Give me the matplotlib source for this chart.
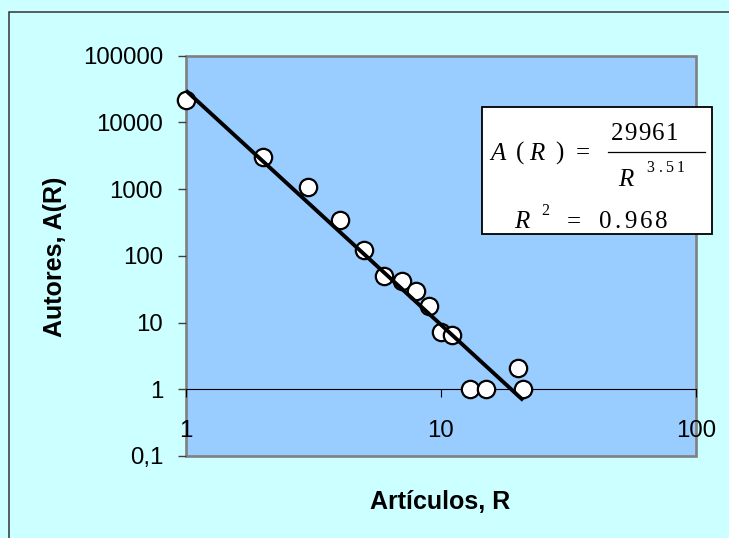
import numpy as np
import matplotlib
matplotlib.use('Agg')
import matplotlib.pyplot as plt
from matplotlib.patches import Rectangle
from matplotlib.lines import Line2D
from matplotlib.ticker import FixedLocator, FixedFormatter, NullLocator

# ---- data ----
articulos = [1, 2, 3, 4, 5, 6, 7, 8, 9, 10, 11, 13, 15, 20, 21]
autores = [21500, 3050, 1090, 345, 123, 50, 42, 30, 18, 7.3, 6.5, 1, 1, 2.1, 1]
fit_coef = 29961
fit_exp = 3.51
fit_r2 = 0.968
fit_start, fit_end = 1, 21
x_ticks = [1, 10, 100]
x_tick_labels = ['1', '10', '100']
y_ticks = [0.1, 1, 10, 100, 1000, 10000, 100000]
y_tick_labels = ['0,1', '1', '10', '100', '1000', '10000', '100000']

plt.rcParams['font.family'] = ['Liberation Sans', 'DejaVu Sans']

W, H = 729, 538
fig = plt.figure(figsize=(W / 100, H / 100), dpi=100, facecolor='#CCFFFF')


def fx(x):
    return x / W


def fy(y):
    return 1 - y / H


# outer chart border (only left/top visible in the crop)
fig.patches.append(Rectangle((fx(9), fy(900)), fx(1200), fy(12) - fy(900),
                             transform=fig.transFigure, fill=False,
                             edgecolor='#333333', lw=1.1))

ax = fig.add_axes([fx(186), fy(456), fx(696) - fx(186), fy(55.7) - fy(456)])
ax.set_xscale('log')
ax.set_yscale('log')
ax.set_xlim(1, 100)
ax.set_ylim(0.1, 100000)
ax.set_facecolor('#99CCFF')

for s in ['left', 'top', 'right']:
    ax.spines[s].set_visible(False)
ax.spines['bottom'].set_position(('data', 1))
ax.spines['bottom'].set_color('black')
ax.spines['bottom'].set_linewidth(0.8)
ax.spines['bottom'].set_zorder(1.5)

ax.add_patch(Rectangle((0, 0), 1, 1, transform=ax.transAxes, fill=False,
                       edgecolor='#808080', lw=1.9, clip_on=False, zorder=1))

ax.xaxis.set_major_locator(FixedLocator(x_ticks))
ax.xaxis.set_major_formatter(FixedFormatter(x_tick_labels))
ax.xaxis.set_minor_locator(NullLocator())
ax.yaxis.set_major_locator(FixedLocator(y_ticks))
ax.yaxis.set_major_formatter(FixedFormatter(y_tick_labels))
ax.yaxis.set_minor_locator(NullLocator())

ax.tick_params(axis='x', direction='out', length=6, width=0.8, color='black',
               pad=16, labelsize=17.3, labelcolor='black')
ax.tick_params(axis='y', direction='out', length=6, width=1.0, color='#404040',
               pad=10.5, labelsize=17.3, labelcolor='black')

# data points
ax.plot(articulos, autores, linestyle='none', marker='o', ms=12.5,
        mfc='white', mec='black', mew=1.6, zorder=3, clip_on=False)

# power trendline
r_fit = np.geomspace(fit_start, fit_end, 60)
a_fit = fit_coef / r_fit ** fit_exp
ax.plot(r_fit, a_fit, color='black', lw=2.8, zorder=4, solid_capstyle='butt',
        clip_on=False)

# axis titles
fig.text(fx(440.4), fy(509), 'Artículos, R', ha='center', va='baseline',
         fontsize=18, fontweight='bold')
fig.text(fx(61.7), fy(257), 'Autores, A(R)', ha='center', va='baseline',
         rotation=90, rotation_mode='anchor', fontsize=18, fontweight='bold')

# equation box
fig.patches.append(Rectangle((fx(482.3), fy(234.3)), fx(711.7) - fx(482.3),
                             fy(107.3) - fy(234.3), transform=fig.transFigure,
                             facecolor='white', edgecolor='black', lw=1.3))
serif = ['Liberation Serif', 'DejaVu Serif']
fs = 18
fs_sup = 11.5


def put(x, y, s, size=fs, italic=False):
    fig.text(fx(x), fy(y), s, fontfamily=serif, fontsize=size,
             style='italic' if italic else 'normal', ha='left', va='baseline')


# row 1: A(R) = 29961 / R^3.51
put(490.5, 159.5, 'A', italic=True)
put(516.0, 159.5, '(')
put(529.0, 159.5, 'R', italic=True)
put(555.0, 159.5, ')')
put(575.5, 159.5, '=')
for i, ch in enumerate(f'{fit_coef}'):
    put(611.0 + i * 13.6, 140.5, ch)
fig.lines.append(Line2D([fx(608.3), fx(705)], [fy(151.7), fy(151.7)],
                        transform=fig.transFigure, color='black', lw=0.9))
put(618.0, 185.5, 'R', italic=True)
for xx, ch in zip([646.0, 659.0, 665.5, 677.0], f'{fit_exp:.2f}'):
    put(xx, 171.7, ch, size=fs_sup)

# row 2: R^2 = 0.968
put(514.0, 228.5, 'R', italic=True)
put(541.5, 215.0, '2', size=fs_sup)
put(567.0, 228.5, '=')
for xx, ch in zip([598.5, 614.5, 624.5, 639.5, 654.5], f'{fit_r2:.3f}'):
    put(xx, 228.5, ch)

fig.savefig('out.png', dpi=100, facecolor=fig.get_facecolor())
